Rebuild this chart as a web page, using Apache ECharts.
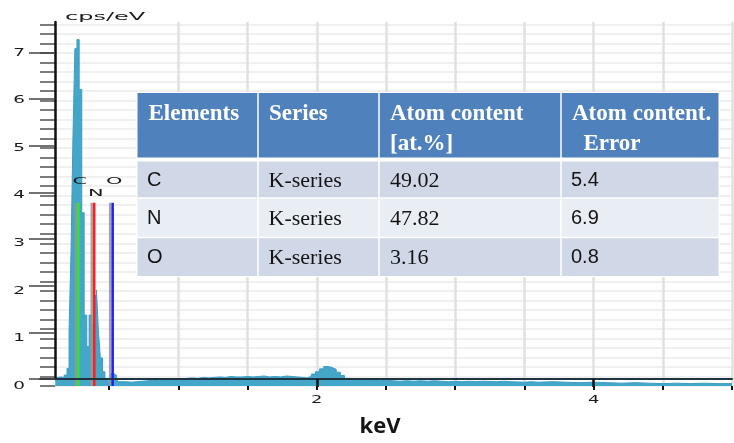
<!DOCTYPE html>
<html>
<head>
<meta charset="utf-8">
<script src="https://cdn.jsdelivr.net/npm/echarts@6/dist/echarts.min.js"></script>
<style>
  html, body { margin: 0; padding: 0; background: #ffffff; }
  #chart { width: 734px; height: 443px; }
</style>
</head>
<body>
<div id="chart"></div>
<script>
// EDS spectrum: left edge of each channel group (keV) and its height (cps/eV)
const energy = [
  0.110, 0.130, 0.150, 0.175, 0.195, 0.210, 0.224, 0.238, 0.252, 0.267,
  0.283, 0.302, 0.319, 0.338, 0.355, 0.373, 0.390, 0.408, 0.422, 0.436,
  0.452, 0.469, 0.483, 0.500, 0.512, 0.532, 0.552, 0.566,
  0.58, 0.62, 0.66, 0.70, 0.74, 0.78, 0.82, 0.86, 0.90, 0.94,
  0.98, 1.02, 1.06, 1.10, 1.14, 1.18, 1.22, 1.26, 1.30, 1.34,
  1.38, 1.42, 1.46, 1.50, 1.54, 1.58, 1.62, 1.66, 1.70, 1.74,
  1.78, 1.82, 1.86, 1.90, 1.93, 1.96, 1.99, 2.02, 2.05, 2.08,
  2.11, 2.14, 2.17, 2.20, 2.24, 2.28, 2.32, 2.36, 2.40, 2.45,
  2.50, 2.55, 2.60, 2.65, 2.70, 2.75, 2.80, 2.85, 2.90, 2.95,
  3.00, 3.05, 3.10, 3.15, 3.20, 3.30, 3.35, 3.40, 3.50, 3.55,
  3.60, 3.70, 3.80, 3.90, 4.00, 4.10, 4.20, 4.30, 4.40, 4.50,
  4.60, 4.70, 4.80, 4.90, 5.00
];
const cps = [
  0.18, 0.19, 0.18, 0.23, 0.37, 1.18, 2.80, 5.22, 7.09, 7.28,
  6.23, 3.64, 1.49, 0.83, 1.49, 1.30, 1.90, 2.02, 1.16, 0.59,
  0.30, 0.13, 0.10, 0.12, 0.26, 0.23, 0.15, 0.09,
  0.09, 0.08, 0.09, 0.10, 0.11, 0.12, 0.11, 0.13, 0.14, 0.13,
  0.15, 0.16, 0.17, 0.16, 0.18, 0.17, 0.18, 0.19, 0.18, 0.20,
  0.19, 0.19, 0.20, 0.19, 0.20, 0.21, 0.19, 0.20, 0.19, 0.21,
  0.20, 0.19, 0.18, 0.17, 0.20, 0.25, 0.30, 0.36, 0.41, 0.39,
  0.35, 0.29, 0.22, 0.16, 0.15, 0.14, 0.12, 0.13, 0.11, 0.12,
  0.11, 0.10, 0.11, 0.10, 0.11, 0.10, 0.11, 0.10, 0.09, 0.10,
  0.09, 0.10, 0.09, 0.10, 0.09, 0.10, 0.09, 0.08, 0.09, 0.08,
  0.09, 0.08, 0.07, 0.08, 0.07, 0.06, 0.07, 0.06, 0.05, 0.06,
  0.05, 0.06, 0.05, 0.05, 0.05
];

// Axis tick labels
const yTickLabels = [0, 1, 2, 3, 4, 5, 6, 7];
const xTickLabels = [2, 4];

// Element K-line markers
const lineElements = ['C', 'N', 'O'];
const lineEnergy = [0.277, 0.392, 0.525];
const lineHeight = [3.85, 3.85, 3.85];
const lineColors = ['#2fe62f', '#ff1d1d', '#1d1dff'];

// Quantification table
const tableHeader = ['Elements', 'Series', 'Atom content\n[at.%]', 'Atom content.\n  Error'];
const rowElement = ['C', 'N', 'O'];
const rowSeries = ['K-series', 'K-series', 'K-series'];
const rowContent = ['49.02', '47.82', '3.16'];
const rowError = ['5.4', '6.9', '0.8'];

const X_MIN = 0, X_MAX = 5, Y_MAX = 7.65;
const gridBox = { left: 40, right: 2, top: 22, bottom: 57 };

const minorY = [];
for (let i = 0; i * 0.2 <= 7.61; i++) minorY.push(+(i * 0.2).toFixed(1));
const halfX = [];
for (let i = 1; i * 0.5 <= X_MAX; i++) halfX.push(i * 0.5);

const chart = echarts.init(document.getElementById('chart'), null, { renderer: 'canvas' });

const spectrum = energy.map((e, i) => [e, cps[i]]);

const markerSeries = lineElements.map((el, i) => ({
  name: el,
  type: 'line',
  xAxisIndex: 0,
  yAxisIndex: 0,
  z: 4,
  symbol: 'none',
  silent: true,
  lineStyle: {
    color: lineColors[i], width: 2.5,
    shadowColor: 'rgba(150,150,150,0.85)', shadowBlur: 0, shadowOffsetX: -2.5
  },
  data: [[lineEnergy[i], 0], [lineEnergy[i], lineHeight[i]]]
}));

const option = {
  animation: false,
  backgroundColor: '#ffffff',
  grid: [
    Object.assign({}, gridBox),
    Object.assign({}, gridBox)
  ],
  xAxis: [
    {
      type: 'value', gridIndex: 0, min: X_MIN, max: X_MAX, interval: 0.5, z: 0,
      axisLine: { show: false },
      axisTick: { show: true, length: 4, customValues: halfX, lineStyle: { color: '#111', width: 2 } },
      axisLabel: { show: false },
      splitLine: { show: true, showMinLine: false, lineStyle: { color: '#e1e1e1', width: 2.5 } }
    },
    {
      type: 'value', gridIndex: 1, min: X_MIN, max: X_MAX, z: 10,
      axisLine: { show: true, onZero: false, lineStyle: { color: '#1e3441', width: 2 } },
      axisTick: { show: true, length: 8, customValues: xTickLabels, lineStyle: { color: '#111', width: 2.5 } },
      axisLabel: { show: false },
      splitLine: { show: false },
      name: 'keV', nameLocation: 'middle', nameGap: 37,
      nameTextStyle: { fontFamily: 'Open Sans', fontWeight: 'bold', fontSize: 22, color: '#151515', padding: [0, 12, 0, 0] }
    }
  ],
  yAxis: [
    {
      type: 'value', gridIndex: 0, min: 0, max: Y_MAX, interval: 0.2, offset: -15, z: 0,
      axisLine: { show: false },
      axisTick: { show: true, length: 15, customValues: minorY, lineStyle: { color: '#555', width: 1.5 } },
      axisLabel: { show: false },
      splitLine: { show: true, lineStyle: { color: '#ebebeb', width: 1.5 } }
    },
    {
      type: 'value', gridIndex: 1, min: 0, max: Y_MAX, offset: -15, z: 10,
      axisLine: { show: true, lineStyle: { color: '#111', width: 2.5 } },
      axisTick: { show: true, length: 26, customValues: yTickLabels, lineStyle: { color: '#444', width: 1.5 } },
      axisLabel: { show: false },
      splitLine: { show: false }
    }
  ],
  series: [
    {
      name: 'spectrum',
      type: 'line',
      xAxisIndex: 0,
      yAxisIndex: 0,
      z: 2,
      step: 'end',
      symbol: 'none',
      silent: true,
      lineStyle: { color: '#3c9ec3', width: 1 },
      areaStyle: { color: '#44a6c9', opacity: 1 },
      data: spectrum
    }
  ].concat(markerSeries)
};

chart.setOption(option);

// Software-style labels: small, horizontally stretched text
function stretchedText(x, y, text, align, size, sx) {
  return {
    type: 'text', x: x, y: y, scaleX: sx, scaleY: 1, z: 60, silent: true,
    style: { text: text, fontFamily: 'DejaVu Sans', fontSize: size, fill: '#1a1a1a', align: align, verticalAlign: 'middle' }
  };
}

const graphics = [];

yTickLabels.forEach(v => {
  const py = chart.convertToPixel({ yAxisIndex: 0 }, v);
  graphics.push(stretchedText(25, py, String(v), 'right', 10.5, 1.75));
});
xTickLabels.forEach(v => {
  const px = chart.convertToPixel({ xAxisIndex: 0 }, v);
  const py = chart.convertToPixel({ yAxisIndex: 0 }, 0);
  graphics.push(stretchedText(px, py + 14, String(v), 'center', 10.5, 1.7));
});
graphics.push(stretchedText(65, 17, 'cps/eV', 'left', 10, 2.4));

lineElements.forEach((el, i) => {
  const p = chart.convertToPixel({ gridIndex: 0 }, [lineEnergy[i], lineHeight[i]]);
  const lift = el === 'N' ? 9 : 21;
  graphics.push(stretchedText(p[0] + 1.5, p[1] - lift, el, 'center', 9.5, 2.2));
});

// Quantification table drawn over the plot
const colX = [137.5, 258, 379, 561, 718.5];
const headTop = 93, headBottom = 157.5;
const rowTops = [161.5, 198, 237.5, 276];
const headFill = '#4f81bd';
const rowFills = ['#d0d8e8', '#e9edf4', '#d0d8e8'];
const serif = 'Liberation Serif';
const sans = 'Liberation Sans';

graphics.push({
  type: 'rect', z: 90, silent: true,
  shape: { x: colX[0] - 1, y: headTop - 1, width: colX[4] - colX[0] + 2, height: rowTops[3] - headTop + 2 },
  style: { fill: '#ffffff' }
});

for (let c = 0; c < 4; c++) {
  graphics.push({
    type: 'rect', z: 91, silent: true,
    shape: { x: colX[c] + (c ? 0.75 : 0), y: headTop, width: colX[c + 1] - colX[c] - (c ? 0.75 : 0) - (c < 3 ? 0.75 : 0), height: headBottom - headTop },
    style: { fill: headFill }
  });
  graphics.push({
    type: 'text', z: 95, silent: true, x: colX[c] + 11, y: 99,
    style: { text: tableHeader[c], fontFamily: serif, fontWeight: 'bold', fontSize: 23, lineHeight: 30, fill: '#ffffff', align: 'left', verticalAlign: 'top' }
  });
}

const rowCells = [rowElement, rowSeries, rowContent, rowError];
const cellFonts = [sans, serif, serif, sans];
const cellSizes = [20, 22, 22, 20];
const cellPad = [9.5, 10.5, 11, 10];
for (let r = 0; r < 3; r++) {
  for (let c = 0; c < 4; c++) {
    const y0 = rowTops[r] + (r ? 0.75 : 0);
    const y1 = rowTops[r + 1] - (r < 2 ? 0.75 : 0);
    graphics.push({
      type: 'rect', z: 91, silent: true,
      shape: { x: colX[c] + (c ? 0.75 : 0), y: y0, width: colX[c + 1] - colX[c] - (c ? 0.75 : 0) - (c < 3 ? 0.75 : 0), height: y1 - y0 },
      style: { fill: rowFills[r] }
    });
    graphics.push({
      type: 'text', z: 95, silent: true, x: colX[c] + cellPad[c], y: (rowTops[r] + rowTops[r + 1]) / 2 + 1,
      style: { text: rowCells[c][r], fontFamily: cellFonts[c], fontSize: cellSizes[c], fill: '#141414', align: 'left', verticalAlign: 'middle' }
    });
  }
}

chart.setOption({ graphic: { elements: graphics } });
</script>
</body>
</html>
